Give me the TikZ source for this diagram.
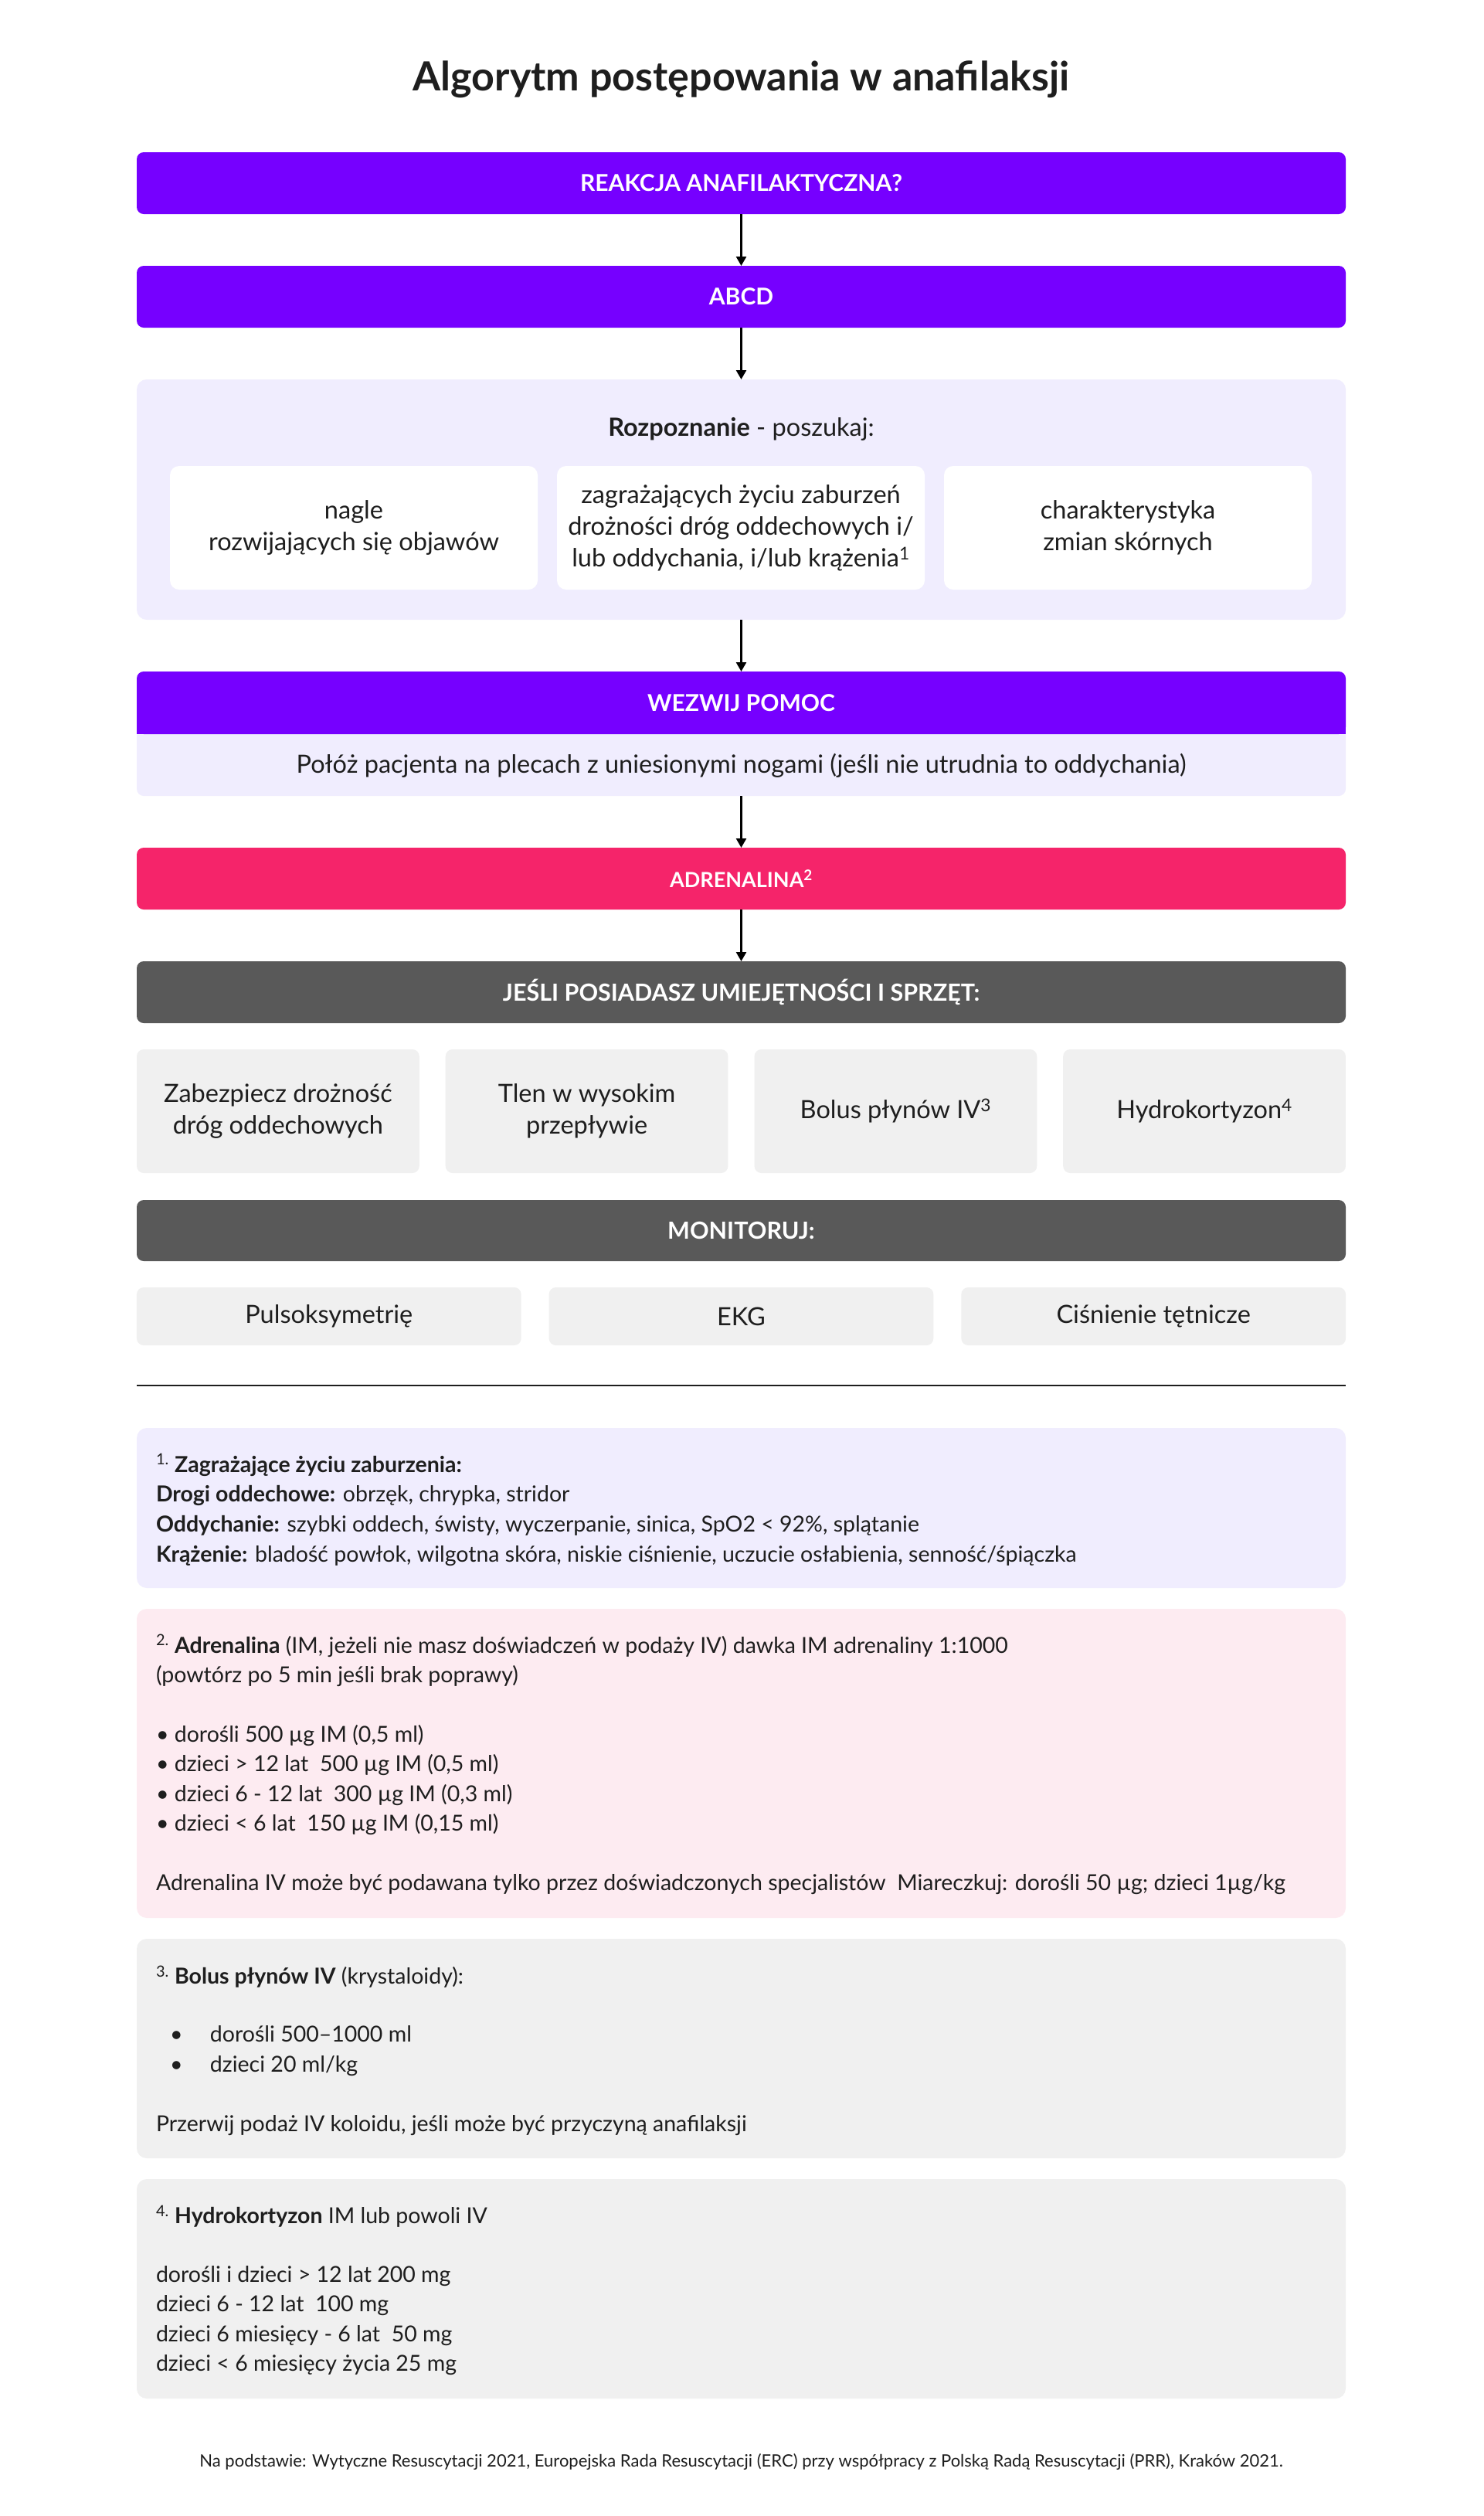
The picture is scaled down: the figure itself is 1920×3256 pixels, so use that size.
\documentclass[tikz,border=0pt]{standalone}
\usepackage{fontspec}
\setmainfont{Lato}
\usetikzlibrary{arrows.meta}
\definecolor{vio}{RGB}{118,0,255}
\definecolor{lav}{RGB}{240,237,254}
\definecolor{pinkC}{RGB}{245,36,106}
\definecolor{dgray}{RGB}{89,89,89}
\definecolor{lgray}{RGB}{240,240,240}
\definecolor{lpink}{RGB}{253,235,241}
\definecolor{txt}{RGB}{30,30,30}
\newcommand\hdrfont{\fontsize{30}{36}\selectfont\bfseries}
\newcommand\boxfont{\fontsize{32.5}{41}\selectfont}
\newcommand\fnfont{\fontsize{28.5}{38}\selectfont}
\begin{document}
\begin{tikzpicture}[x=1pt,y=-1pt,
  base/.style={rectangle, rounded corners=9pt, inner sep=0pt, outer sep=0pt, align=center},
  hdr/.style={base, fill=vio, minimum width=1565pt, minimum height=80pt, text=white, font=\hdrfont},
  ghdr/.style={hdr, fill=dgray, font=\fontsize{30.5}{36}\selectfont\bfseries},
  wbox/.style={base, fill=white, rounded corners=12pt, minimum width=476pt, minimum height=160pt, text=txt, font=\boxfont},
  gbox/.style={base, fill=lgray, minimum width=365.75pt, minimum height=160pt, text=txt, font=\boxfont},
  mbox/.style={base, fill=lgray, minimum width=497.67pt, minimum height=75pt, text=txt, font=\boxfont},
  panel/.style={base, minimum width=1565pt},
  fpanel/.style={panel, rounded corners=13pt},
  fn/.style={anchor=base west, inner sep=0pt, outer sep=0pt, text=txt, font=\fnfont},
  arr/.style={draw=black, line width=2.5pt, -{Triangle[length=12pt,width=13pt]}}]
\useasboundingbox (0,0) rectangle (1920,3256);
\fill[white] (0,0) rectangle (1920,3256);

% title
\node[anchor=base, inner sep=0pt, text=txt, font=\fontsize{52}{60}\selectfont\bfseries] (title) at (959.5,117) {Algorytm postępowania w anafilaksji};

% flow
\node[hdr] (react) at (959.5,237) {REAKCJA ANAFILAKTYCZNA?};
\node[hdr] (abcd) at (959.5,384) {ABCD};
\node[fpanel, fill=lav, minimum height=311pt] (rozp) at (959.5,646.5) {};
\node[anchor=center, inner sep=0pt, text=txt, font=\boxfont] (rozpt) at (959.5,555) {\textbf{Rozpoznanie} - poszukaj:};
\node[wbox] (r1) at (458,683) {nagle\\rozwijających się objawów};
\node[wbox] (r2) at (959,683) {zagrażających życiu zaburzeń\\drożności dróg oddechowych i/\\lub oddychania, i/lub krążenia\textsuperscript{1}};
\node[wbox] (r3) at (1460,683) {charakterystyka\\zmian skórnych};

\node[panel, fill=lav, minimum height=161pt] (help) at (959.5,949.5) {};
\fill[vio] (177,915) rectangle (1742,950);
\node[hdr, minimum height=81pt] (helph) at (959.5,909.5) {WEZWIJ POMOC};
\node[anchor=center, inner sep=0pt, text=txt, font=\boxfont] (helpt) at (959.5,991) {Połóż pacjenta na plecach z uniesionymi nogami (jeśli nie utrudnia to oddychania)};

\node[hdr, fill=pinkC, font=\fontsize{27}{32}\selectfont\bfseries] (adr) at (959.5,1137) {ADRENALINA\textsuperscript{2}};
\node[ghdr] (skill) at (959.5,1284) {JEŚLI POSIADASZ UMIEJĘTNOŚCI I SPRZĘT:};
\node[gbox] (s1) at (359.9,1438) {Zabezpiecz drożność\\dróg oddechowych};
\node[gbox] (s2) at (759.6,1438) {Tlen w wysokim\\przepływie};
\node[gbox] (s3) at (1159.4,1438) {Bolus płynów IV\textsuperscript{3}};
\node[gbox] (s4) at (1559.1,1438) {Hydrokortyzon\textsuperscript{4}};
\node[ghdr, minimum height=79pt] (mon) at (959.5,1592.5) {MONITORUJ:};
\node[mbox] (m1) at (425.8,1703.5) {Pulsoksymetrię};
\node[mbox] (m2) at (959.5,1703.5) {EKG};
\node[mbox] (m3) at (1493.2,1703.5) {Ciśnienie tętnicze};

\draw[arr] (react.south) -- (abcd.north);
\draw[arr] (abcd.south) -- (rozp.north);
\draw[arr] (rozp.south) -- (help.north);
\draw[arr] (help.south) -- (adr.north);
\draw[arr] (adr.south) -- (skill.north);

% separator
\coordinate (sepL) at (177,1793);
\coordinate (sepR) at (1742,1793);
\draw[line width=2pt, draw=txt] (sepL) -- (sepR);

% footnote 1
\node[fpanel, fill=lav, minimum height=207pt] (fb1) at (959.5,1951.5) {};
\node[fn] (f1a) at (202,1905) {\textsuperscript{1.} \textbf{Zagrażające życiu zaburzenia:}};
\node[fn] (f1b) at (202,1943) {\textbf{Drogi oddechowe:} obrzęk, chrypka, stridor};
\node[fn] (f1c) at (202,1982) {\textbf{Oddychanie:} szybki oddech, świsty, wyczerpanie, sinica, SpO2 < 92\%, splątanie};
\node[fn] (f1d) at (202,2021) {\textbf{Krążenie:} bladość powłok, wilgotna skóra, niskie ciśnienie, uczucie osłabienia, senność/śpiączka};

% footnote 2
\node[fpanel, fill=lpink, minimum height=400pt] (fb2) at (959.5,2282) {};
\node[fn] (f2a) at (202,2139) {\textsuperscript{2.} \textbf{Adrenalina} (IM, jeżeli nie masz doświadczeń w podaży IV) dawka IM adrenaliny 1:1000};
\node[fn] (f2b) at (202,2177) {(powtórz po 5 min jeśli brak poprawy)};
\node[fn] (f2c) at (202,2254) {• dorośli 500 µg IM (0,5 ml)};
\node[fn] (f2d) at (202,2292) {• dzieci > 12 lat~ 500 µg IM (0,5 ml)};
\node[fn] (f2e) at (202,2331) {• dzieci 6 - 12 lat~ 300 µg IM (0,3 ml)};
\node[fn] (f2f) at (202,2369) {• dzieci < 6 lat~ 150 µg IM (0,15 ml)};
\node[fn] (f2g) at (202,2446) {Adrenalina IV może być podawana tylko przez doświadczonych specjalistów~ Miareczkuj: dorośli 50 µg; dzieci 1µg/kg};

% footnote 3
\node[fpanel, fill=lgray, minimum height=284pt] (fb3) at (959.5,2651) {};
\node[fn] (f3a) at (202,2567) {\textsuperscript{3.} \textbf{Bolus płynów IV} (krystaloidy):};
\node[fn] (f3b) at (220,2642) {\makebox[52pt][l]{•}dorośli 500–1000 ml};
\node[fn] (f3c) at (220,2681) {\makebox[52pt][l]{•}dzieci 20 ml/kg};
\node[fn] (f3d) at (202,2758) {Przerwij podaż IV koloidu, jeśli może być przyczyną anafilaksji};

% footnote 4
\node[fpanel, fill=lgray, minimum height=284pt] (fb4) at (959.5,2962) {};
\node[fn] (f4a) at (202,2877) {\textsuperscript{4.} \textbf{Hydrokortyzon} IM lub powoli IV};
\node[fn] (f4b) at (202,2953) {dorośli i dzieci > 12 lat 200 mg};
\node[fn] (f4c) at (202,2991) {dzieci 6 - 12 lat~ 100 mg};
\node[fn] (f4d) at (202,3030) {dzieci 6 miesięcy - 6 lat~ 50 mg};
\node[fn] (f4e) at (202,3068) {dzieci < 6 miesięcy życia 25 mg};

% footer
\node[anchor=base, inner sep=0pt, text=txt, font=\fontsize{22}{26}\selectfont] (foot) at (959.5,3192) {Na podstawie: Wytyczne Resuscytacji 2021, Europejska Rada Resuscytacji (ERC) przy współpracy z Polską Radą Resuscytacji (PRR), Kraków 2021.};
\end{tikzpicture}
\end{document}
